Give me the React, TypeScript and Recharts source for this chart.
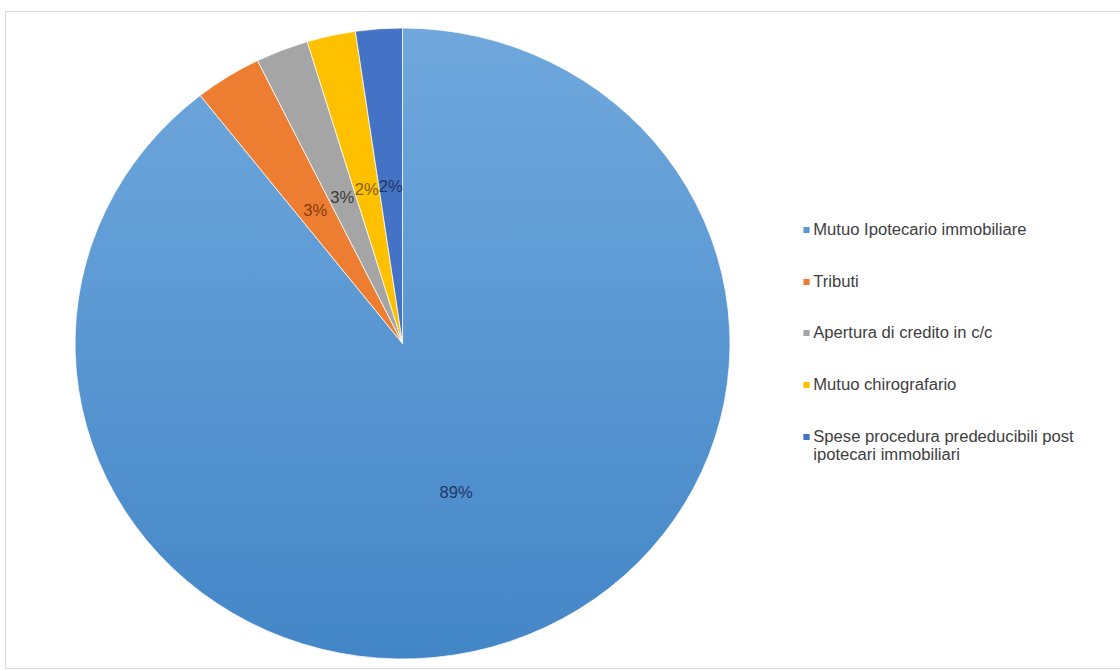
import { PieChart, Pie, Cell, Legend } from 'recharts';

const categories = [
  'Mutuo Ipotecario immobiliare',
  'Tributi',
  'Apertura di credito in c/c',
  'Mutuo chirografario',
  'Spese procedura prededucibili post ipotecari immobiliari',
];
const shares = [89.4, 3.3, 2.6, 2.4, 2.3];
const colors = ['#5B9BD5', '#ED7D31', '#A5A5A5', '#FFC000', '#4472C4'];
const labelColors = ['#1F3864', '#843C0C', '#3A3A3A', '#7F6000', '#1F3864'];

const data = categories.map((name, i) => ({ name, value: shares[i] }));

const RADIAN = Math.PI / 180;
const STRETCH = 1.038;

const renderLabel = ({ cx, cy, midAngle, outerRadius, percent, index }: any) => {
  const r = outerRadius * 0.5;
  const x = cx + r * Math.cos(-midAngle * RADIAN);
  const y = cy + r * Math.sin(-midAngle * RADIAN);
  return (
    <text
      x={x}
      y={y}
      fill={labelColors[index]}
      textAnchor="middle"
      dominantBaseline="central"
      fontSize={16}
    >
      {`${Math.round(percent * 100)}%`}
    </text>
  );
};

const LegendBox = () => (
  <div style={{ display: 'flex', flexDirection: 'column', gap: 33.7 }}>
    {categories.map((c, i) => (
      <div key={c} style={{ display: 'flex', alignItems: 'flex-start' }}>
        <span
          style={{
            width: 6,
            height: 6,
            background: colors[i],
            marginTop: 6,
            marginRight: 4,
            flex: '0 0 auto',
          }}
        />
        <span style={{ fontSize: 16, lineHeight: '18px', color: '#404040', width: 290 }}>{c}</span>
      </div>
    ))}
  </div>
);

export default function App() {
  return (
    <div
      style={{
        position: 'absolute',
        left: 0,
        top: 0,
        width: 1120,
        height: 671,
        overflow: 'hidden',
        background: '#fff',
        fontFamily: '"Liberation Sans", Arial, sans-serif',
      }}
    >
      <div
        style={{
          position: 'absolute',
          left: 5,
          top: 11,
          width: 1140,
          height: 656,
          border: '1px solid #D9D9D9',
        }}
      />
      <div style={{ position: 'absolute', left: 0, top: 0, transform: `scaleX(${STRETCH})`, transformOrigin: '0 0' }}>
        <PieChart width={1079} height={671} margin={{ top: 0, right: 0, bottom: 0, left: 0 }}>
          <defs>
            <linearGradient id="bigSlice" x1="0" y1="0" x2="0" y2="1">
              <stop offset="0%" stopColor="#70A8DD" />
              <stop offset="100%" stopColor="#4386C7" />
            </linearGradient>
          </defs>
          <Pie
            data={data}
            dataKey="value"
            nameKey="name"
            cx={387.8}
            cy={343.5}
            outerRadius={315.5}
            startAngle={90}
            endAngle={-270}
            stroke="#ffffff"
            strokeWidth={0.75}
            label={renderLabel}
            labelLine={false}
            isAnimationActive={false}
          >
            {data.map((d, i) => (
              <Cell key={d.name} fill={i === 0 ? 'url(#bigSlice)' : colors[i]} />
            ))}
          </Pie>
          <Legend
            layout="vertical"
            align="right"
            verticalAlign="top"
            content={<LegendBox />}
            wrapperStyle={{ left: 773.5, top: 221, width: 306, right: 'auto' }}
          />
        </PieChart>
      </div>
    </div>
  );
}
